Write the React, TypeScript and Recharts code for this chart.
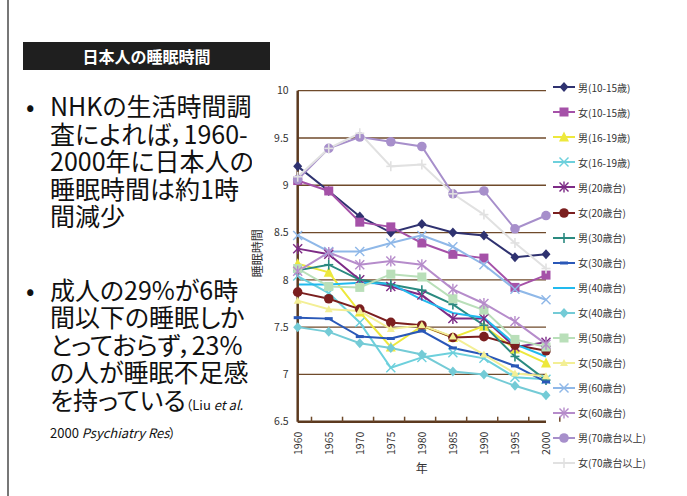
import React from "react";
import { LineChart, Line, XAxis, YAxis, CartesianGrid, Legend } from "recharts";

// 調査年
const years = ["1960", "1965", "1970", "1975", "1980", "1985", "1990", "1995", "2000"];
const yTicks = [6.5, 7, 7.5, 8, 8.5, 9, 9.5, 10];

// 睡眠時間 (時間)
const m1015 = [9.2, 8.94, 8.67, 8.5, 8.59, 8.5, 8.47, 8.24, 8.27];
const f1015 = [9.05, 8.94, 8.61, 8.56, 8.39, 8.27, 8.23, 7.92, 8.05];
const m1619 = [8.17, 8.08, 7.66, 7.29, 7.51, 7.39, 7.51, 7.27, 7.12];
const f1619 = [8.04, 7.86, 7.55, 7.07, 7.18, 7.23, 7.17, 6.97, 6.95];
const m20 = [8.33, 8.27, 8.0, 7.93, 7.84, 7.59, 7.59, 7.29, 7.34];
const f20 = [7.87, 7.8, 7.69, 7.55, 7.52, 7.39, 7.4, 7.31, 7.25];
const m30 = [8.1, 8.16, 8.0, 7.95, 7.89, 7.74, 7.52, 7.19, 6.94];
const f30 = [7.6, 7.59, 7.4, 7.38, 7.46, 7.28, 7.21, 7.09, 6.92];
const m40 = [7.95, 7.95, 7.97, 7.96, 7.79, 7.65, 7.6, 7.32, 7.19];
const f40 = [7.5, 7.45, 7.33, 7.28, 7.21, 7.03, 7.0, 6.88, 6.78];
const m50 = [8.12, 7.93, 7.92, 8.06, 8.03, 7.8, 7.68, 7.37, 7.29];
const f50 = [7.78, 7.69, 7.67, 7.48, 7.52, 7.4, 7.21, 7.01, 6.98];
const m60 = [8.47, 8.3, 8.3, 8.39, 8.47, 8.35, 8.16, 7.9, 7.79];
const f60 = [8.09, 8.29, 8.16, 8.2, 8.16, 7.9, 7.75, 7.56, 7.32];
const m70 = [9.06, 9.39, 9.51, 9.46, 9.41, 8.91, 8.94, 8.54, 8.68];
const f70 = [9.09, 9.39, 9.55, 9.2, 9.22, 8.91, 8.69, 8.39, 8.12];

const seriesNames = [
  "男(10-15歳)", "女(10-15歳)", "男(16-19歳)", "女(16-19歳)",
  "男(20歳台)", "女(20歳台)", "男(30歳台)", "女(30歳台)",
  "男(40歳台)", "女(40歳台)", "男(50歳台)", "女(50歳台)",
  "男(60歳台)", "女(60歳台)", "男(70歳台以上)", "女(70歳台以上)",
];
const seriesValues = [m1015, f1015, m1619, f1619, m20, f20, m30, f30, m40, f40, m50, f50, m60, f60, m70, f70];

// styles
const seriesColors = [
  "#2f3270", "#a551a8", "#ede83c", "#6dd0dc",
  "#7d2b86", "#7b1f1f", "#2b8a80", "#2a58b8",
  "#22baee", "#74cbd6", "#b9dfb9", "#f3ef95",
  "#8fb8e8", "#b68ccb", "#a78fcb", "#e1e1e1",
];
const seriesShapes = [
  "diamond", "square", "triangle", "x",
  "star", "circle", "plus", "dash",
  "none", "diamond", "square", "smalltri",
  "x", "star", "circle", "plus",
];

const data = years.map((year, i) => {
  const row: any = { year };
  seriesValues.forEach((vals, k) => {
    row[`s${k}`] = vals[i];
  });
  return row;
});

const FONT = "'Noto Sans CJK JP', sans-serif";
const BROWN = "#6f4a2b";
const CHART_W = 447;
const CHART_H = 410;
const LEGEND_W = 141;
const Y_AXIS_W = 40;
const X_AXIS_H = 40;
const margin = { top: 10.7, right: 0, bottom: 28.3, left: 17.7 };
const plotW = CHART_W - margin.left - margin.right - Y_AXIS_W - LEGEND_W;
const step = plotW / years.length;
const X_TICK_GAP = 10;

const Marker = ({ shape, cx, cy, color }: any) => {
  const r = 4.5;
  switch (shape) {
    case "diamond":
      return <polygon points={`${cx},${cy - r - 0.5} ${cx + r},${cy} ${cx},${cy + r + 0.5} ${cx - r},${cy}`} fill={color} />;
    case "square":
      return <rect x={cx - r} y={cy - r} width={2 * r} height={2 * r} fill={color} />;
    case "triangle":
      return <polygon points={`${cx},${cy - r - 1} ${cx + r + 0.5},${cy + r} ${cx - r - 0.5},${cy + r}`} fill={color} />;
    case "smalltri":
      return <polygon points={`${cx},${cy - 4} ${cx + 4},${cy + 3} ${cx - 4},${cy + 3}`} fill={color} />;
    case "x":
      return (
        <g stroke={color} strokeWidth={1.4}>
          <line x1={cx - r} y1={cy - r} x2={cx + r} y2={cy + r} />
          <line x1={cx - r} y1={cy + r} x2={cx + r} y2={cy - r} />
        </g>
      );
    case "star":
      return (
        <g stroke={color} strokeWidth={1.4}>
          <line x1={cx - r} y1={cy - r} x2={cx + r} y2={cy + r} />
          <line x1={cx - r} y1={cy + r} x2={cx + r} y2={cy - r} />
          <line x1={cx} y1={cy - r - 1} x2={cx} y2={cy + r + 1} />
        </g>
      );
    case "circle":
      return <circle cx={cx} cy={cy} r={r + 0.3} fill={color} />;
    case "plus":
      return (
        <g stroke={color} strokeWidth={1.6}>
          <line x1={cx} y1={cy - r - 0.5} x2={cx} y2={cy + r + 0.5} />
          <line x1={cx - r} y1={cy} x2={cx + r} y2={cy} />
        </g>
      );
    case "dash":
      return <line x1={cx - 4} y1={cy} x2={cx + 4} y2={cy} stroke={color} strokeWidth={3} />;
    default:
      return <g />;
  }
};

const XTick = (props: any) => {
  const { x, y, payload } = props;
  const axisY = y - X_TICK_GAP;
  return (
    <g>
      <line x1={x + step / 2} x2={x + step / 2} y1={axisY - 5} y2={axisY} stroke={BROWN} strokeWidth={1.5} />
      <text
        x={x}
        y={y}
        transform={`rotate(-90 ${x} ${y})`}
        textAnchor="end"
        dominantBaseline="central"
        fontSize={10.5}
        fontFamily={FONT}
        fill="#333"
      >
        {payload.value}
      </text>
    </g>
  );
};

const YLabel = (props: any) => {
  const { x, y, height } = props.viewBox;
  const cx = x - 1;
  const cy = y + height / 2 - 3;
  return (
    <text
      x={cx}
      y={cy}
      transform={`rotate(-90 ${cx} ${cy})`}
      textAnchor="middle"
      dominantBaseline="central"
      fontSize={12}
      fontFamily={FONT}
      fill="#333"
    >
      睡眠時間
    </text>
  );
};

const XLabel = (props: any) => {
  const { x, y, width } = props.viewBox;
  return (
    <text x={x + width / 2} y={y + 46} textAnchor="middle" dominantBaseline="central" fontSize={12} fontFamily={FONT} fill="#333">
      年
    </text>
  );
};

const LegendBox = () => (
  <div style={{ fontFamily: FONT, fontSize: 10, color: "#333" }}>
    {seriesNames.map((name, k) => (
      <div key={name} style={{ height: 25.05, display: "flex", alignItems: "center", whiteSpace: "nowrap" }}>
        <svg width={24} height={12} style={{ display: "block" }}>
          <line x1={0} y1={6} x2={22} y2={6} stroke={seriesColors[k]} strokeWidth={2} />
          <Marker shape={seriesShapes[k]} cx={11} cy={6} color={seriesColors[k]} />
        </svg>
        <span style={{ marginLeft: 1 }}>{name}</span>
      </div>
    ))}
  </div>
);

const textLine: React.CSSProperties = { position: "absolute", left: 50, whiteSpace: "nowrap", lineHeight: "27.5px" };
const bullet: React.CSSProperties = { position: "absolute", left: 26, lineHeight: "27.5px" };

export default function App() {
  return (
    <div style={{ position: "absolute", left: 0, top: 0, width: 687, height: 496, background: "#fff", overflow: "hidden", fontFamily: FONT }}>
      <div style={{ position: "absolute", left: 7, top: 0, width: 1.5, height: 496, background: "#777" }} />

      <div
        style={{
          position: "absolute", left: 23, top: 42, width: 247, height: 28, background: "#1f1f1f",
          color: "#fff", fontWeight: 700, fontSize: 16, lineHeight: "28px", textAlign: "center",
        }}
      >
        日本人の睡眠時間
      </div>

      <div
        style={{
          position: "absolute", left: 0, top: 0, width: 252, height: 496, overflow: "hidden",
          color: "#111", fontSize: 25, fontFeatureSettings: '"palt"',
        }}
      >
        <div style={{ ...bullet, top: 92 }}>•</div>
        <div style={{ ...textLine, top: 92 }}>
          NHKの生活時間調<br />査によれば，1960-<br />2000年に日本人の<br />睡眠時間は約1時<br />間減少
        </div>

        <div style={{ ...bullet, top: 275.5 }}>•</div>
        <div style={{ ...textLine, top: 275.5 }}>
          成人の29%が6時<br />間以下の睡眠しか<br />とっておらず，23%<br />の人が睡眠不足感<br />
          を持っている<span style={{ fontSize: 13 }}>（Liu <i>et al.</i></span>
        </div>
        <div style={{ ...textLine, top: 423, fontSize: 13, lineHeight: "20px" }}>
          2000 <i>Psychiatry Res</i>）
        </div>
      </div>

      <div style={{ position: "absolute", left: 240, top: 80 }}>
        <LineChart width={CHART_W} height={CHART_H} data={data} margin={margin}>
          <CartesianGrid horizontal vertical={false} stroke={BROWN} strokeWidth={1.3} />
          <XAxis
            dataKey="year"
            interval={0}
            height={X_AXIS_H}
            tickSize={0}
            tickMargin={X_TICK_GAP}
            tickLine={false}
            axisLine={{ stroke: "#5c3a1f", strokeWidth: 2.5 }}
            tick={XTick}
            label={XLabel}
          />
          <YAxis
            domain={[6.5, 10]}
            ticks={yTicks}
            width={Y_AXIS_W}
            tickSize={0}
            tickMargin={9}
            tickLine={false}
            axisLine={{ stroke: "#5c3a1f", strokeWidth: 2.5 }}
            tick={{ fontSize: 10.5, fontFamily: FONT, fill: "#333" }}
            label={YLabel}
          />
          <Legend
            layout="vertical"
            align="right"
            verticalAlign="top"
            content={LegendBox}
            wrapperStyle={{ top: -5.25, right: 0, width: LEGEND_W, paddingLeft: 7, boxSizing: "border-box" }}
          />
          {seriesNames.map((name, k) => (
            <Line
              key={name}
              name={name}
              dataKey={`s${k}`}
              type="linear"
              stroke={seriesColors[k]}
              strokeWidth={2}
              isAnimationActive={false}
              activeDot={false}
              dot={
                seriesShapes[k] === "none"
                  ? false
                  : (p: any) => <Marker key={`d${k}-${p.index}`} shape={seriesShapes[k]} cx={p.cx} cy={p.cy} color={seriesColors[k]} />
              }
            />
          ))}
        </LineChart>
      </div>
    </div>
  );
}
